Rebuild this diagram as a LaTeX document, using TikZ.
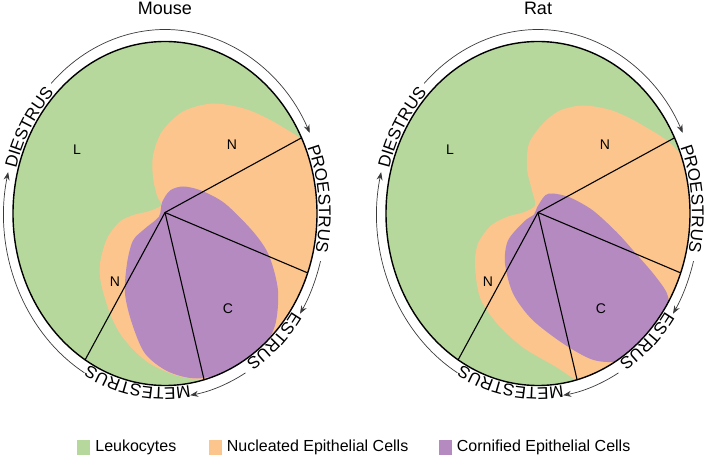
\documentclass[tikz,border=0pt]{standalone}
\usepackage{fontspec}
\setmainfont{Liberation Sans}
\usetikzlibrary{arrows.meta,positioning,decorations.text}
\definecolor{Leuko}{HTML}{B6D89C}
\definecolor{Nucl}{HTML}{FCC58E}
\definecolor{Corn}{HTML}{B58AC1}
\definecolor{Ring}{HTML}{3A3A3A}

\begin{document}
\begin{tikzpicture}[x=1pt,y=1pt,
  rim/.style={draw=black,line width=1.4pt},
  spoke/.style={black,line width=1.1pt},
  ringarrow/.style={-{Stealth[length=8pt,width=6pt]},Ring,line width=0.7pt},
  ringtext/.style={decorate,decoration={text along path,text align=center,
    text={|\fontsize{17}{17}\selectfont|#1}}},
  cell/.style={font=\fontsize{14}{14}\selectfont,inner sep=0pt},
  title/.style={font=\fontsize{18}{18}\selectfont,anchor=base},
  legsq/.style={minimum width=13pt,minimum height=15pt,inner sep=0pt},
  legtext/.style={font=\fontsize{16}{16}\selectfont,inner sep=0pt,
    text height=12pt,text depth=3.5pt}]
  \useasboundingbox (0,0) rectangle (709,458);

  % mouse phases
  \begin{scope}[shift={(165,244.5)}]
    \fill[Leuko] (0,0) ellipse[x radius=152pt,y radius=172pt];
    \begin{scope}
      \clip (0,0) ellipse[x radius=152pt,y radius=172pt];
      \fill[Nucl] plot[smooth cycle] coordinates {(-4,8) (-8,18) (-12,36)
        (-12,58) (-3,82) (18,102) (48,110) (82,104) (115,88) (150,62) (172,10)
        (168,-70) (140,-125) (110,-140) (80,-155) (45,-166) (15,-163)
        (-12,-152) (-30,-138) (-45,-120) (-55,-100) (-64,-70) (-65,-50)
        (-58,-25) (-45,-8) (-30,-1) (-17,2)};
      \fill[Corn] plot[smooth cycle] coordinates {(-3,11) (5,23) (18,27)
        (36,23) (60,10) (88,-18) (104,-42) (113,-77) (110,-112) (95,-138)
        (68,-157) (32,-165) (3,-158) (-20,-140) (-33,-110) (-40,-80)
        (-38,-50) (-32,-27) (-20,-15) (-6,-3)};
    \end{scope}
  \end{scope}

  % rat phases
  \begin{scope}[shift={(538,244.5)}]
    \fill[Leuko] (0,0) ellipse[x radius=152pt,y radius=172pt];
    \begin{scope}
      \clip (0,0) ellipse[x radius=152pt,y radius=172pt];
      \fill[Nucl] plot[smooth cycle] coordinates {(-3,8) (-6,23) (-11,45)
        (-9,70) (5,90) (22,103) (45,108) (74,103) (105,88) (140,62) (170,0)
        (168,-80) (140,-140) (100,-165) (62,-178) (40,-168) (19,-154)
        (-15,-134) (-41,-110) (-58,-84) (-63,-52) (-60,-30) (-47,-12)
        (-30,-3) (-15,1)};
      \fill[Corn] plot[smooth cycle] coordinates {(-1,6) (7,18) (15,20)
        (32,16) (55,3) (79,-19) (97,-39) (116,-61) (129,-80) (131,-99)
        (121,-120) (101,-138) (78,-148) (54,-146) (25,-130) (-6,-106)
        (-25,-80) (-33,-50) (-30,-27) (-14,-8) (-4,-1)};
    \end{scope}
  \end{scope}

  % spokes, rim, cycle ring
  \foreach \cx/\p/\ttl in {165/m/Mouse,538/r/Rat}{
    \begin{scope}[shift={(\cx,244.5)}]
      \coordinate (\p hub) at (0,1);
      \coordinate (\p pro) at (26.1:152pt and 172pt);
      \coordinate (\p est) at (-20.2:152pt and 172pt);
      \coordinate (\p met) at (-75.1:152pt and 172pt);
      \coordinate (\p die) at (-121.7:152pt and 172pt);
      \draw[spoke] (\p hub) -- (\p pro);
      \draw[spoke] (\p hub) -- (\p est);
      \draw[spoke] (\p hub) -- (\p met);
      \draw[spoke] (\p hub) -- (\p die);
      \draw[rim] (0,0) ellipse[x radius=152pt,y radius=172pt];

      \node[title] (\p title) at (0,198.5) {\ttl};
      \node[cell] (\p L) at (-88,64) {L};
      \node[cell] (\p N1) at (67,69) {N};
      \node[cell] (\p N2) at (-50,-68) {N};
      \node[cell] (\p C) at (63,-95) {C};

      \path[ringtext=DIESTRUS] (180:154pt and 174pt)
        arc[start angle=180,end angle=120,x radius=154pt,y radius=174pt];
      \path[ringtext=PROESTRUS] (35:154pt and 174pt)
        arc[start angle=35,end angle=-25,x radius=154pt,y radius=174pt];
      \path[ringtext=ESTRUS] (-17:154pt and 174pt)
        arc[start angle=-17,end angle=-77,x radius=154pt,y radius=174pt];
      \path[ringtext=METESTRUS] (-70:154pt and 174pt)
        arc[start angle=-70,end angle=-130,x radius=154pt,y radius=174pt];

      \draw[ringarrow] (135:161pt and 184pt)
        arc[start angle=135,end angle=26,x radius=161pt,y radius=184pt];
      \draw[ringarrow] (-15:161pt and 184pt)
        arc[start angle=-15,end angle=-33,x radius=161pt,y radius=184pt];
      \draw[ringarrow] (-60:161pt and 184pt)
        arc[start angle=-60,end angle=-81,x radius=161pt,y radius=184pt];
      \draw[ringarrow] (-120:161pt and 184pt)
        arc[start angle=-120,end angle=-193,x radius=161pt,y radius=184pt];
    \end{scope}}

  % legend
  \node[legsq,fill=Leuko] (keyL) at (83.5,10.5) {};
  \node[legtext,right=5pt of keyL] (txtL) {Leukocytes};
  \node[legsq,fill=Nucl] (keyN) at (215,10.5) {};
  \node[legtext,right=5pt of keyN] (txtN) {Nucleated Epithelial Cells};
  \node[legsq,fill=Corn] (keyC) at (445,10.5) {};
  \node[legtext,right=5pt of keyC] (txtC) {Cornified Epithelial Cells};
\end{tikzpicture}
\end{document}
